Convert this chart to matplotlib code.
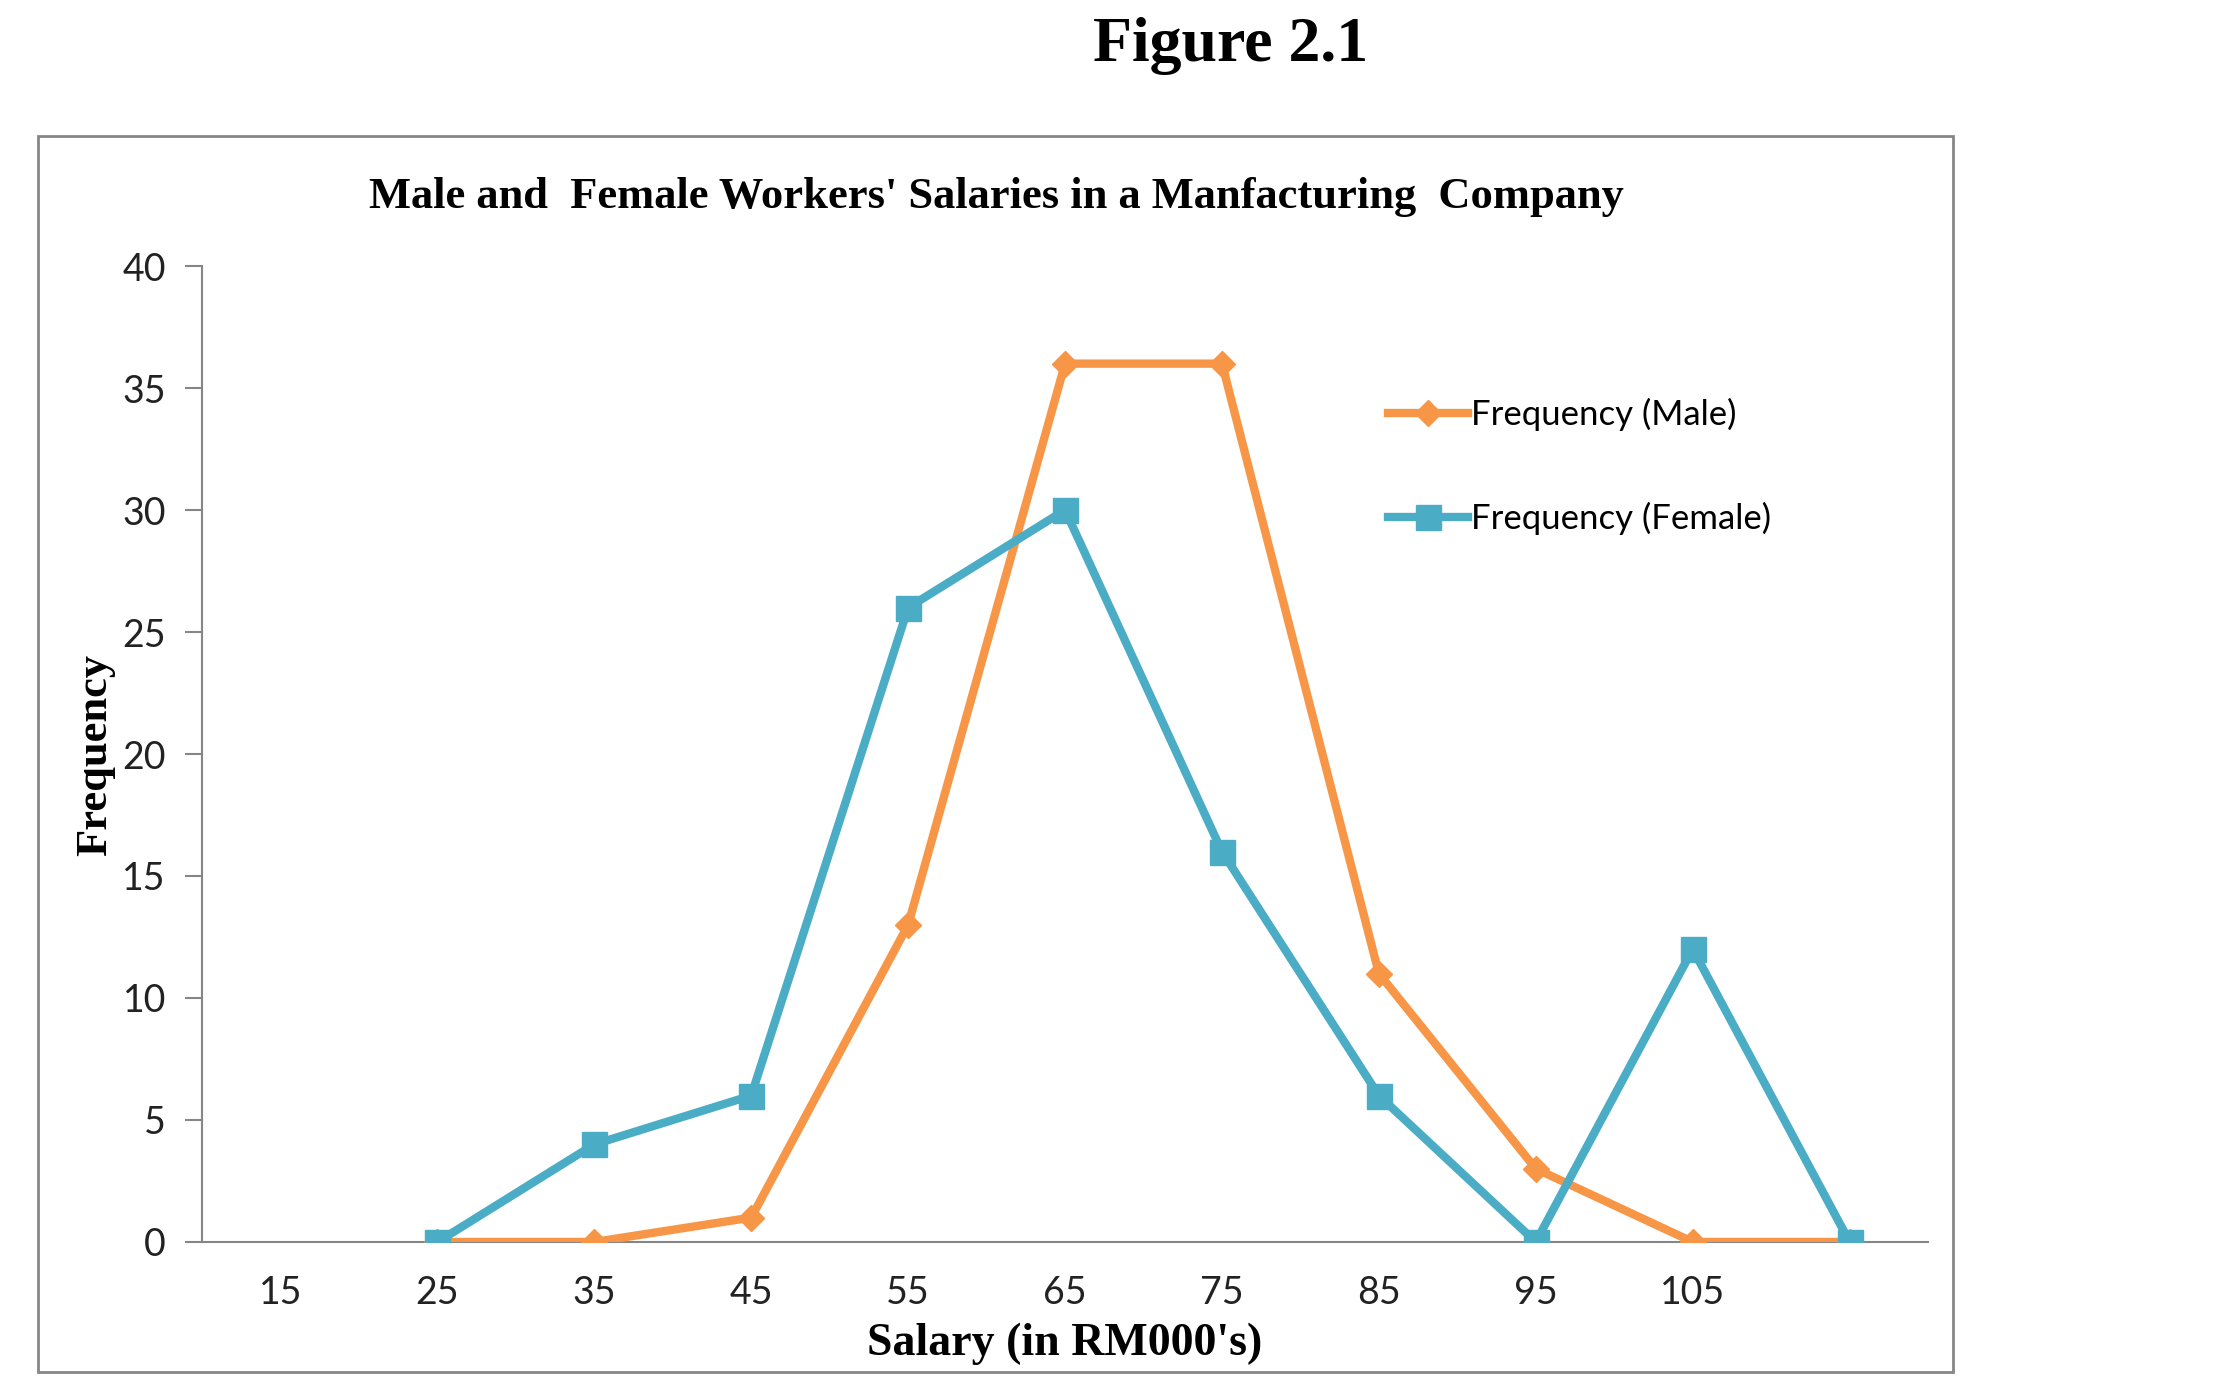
import matplotlib.pyplot as plt
from matplotlib.patches import Rectangle

# ---------- DATA ----------
salary_labels = ["15", "25", "35", "45", "55", "65", "75", "85", "95", "105", ""]
male_x = [1, 2, 3, 4, 5, 6, 7, 8, 9, 10]
male_freq = [0, 0, 1, 13, 36, 36, 11, 3, 0, 0]
female_x = [1, 2, 3, 4, 5, 6, 7, 8, 9, 10]
female_freq = [0, 4, 6, 26, 30, 16, 6, 0, 12, 0]

ORANGE = "#F79646"
BLUE = "#4BACC6"
GRAY = "#868686"
SERIF = "Liberation Serif"
SANS = "Lato"

fig = plt.figure(figsize=(22.18, 13.9), dpi=100)
fig.patch.set_facecolor("white")

# outer chart border
fig.patches.append(Rectangle((0.0171, 0.0129), 0.8634, 0.8893,
                             transform=fig.transFigure, fill=False,
                             edgecolor=GRAY, linewidth=2))

ax = fig.add_axes([0.0911, 0.1065, 0.7782, 0.7021])

ax.plot(male_x, male_freq, color=ORANGE, linewidth=6, marker="D",
        markersize=13, label="Frequency (Male)", zorder=3)
ax.plot(female_x, female_freq, color=BLUE, linewidth=6, marker="s",
        markersize=18, label="Frequency (Female)", zorder=4)

ax.set_xlim(-0.5, 10.5)
ax.set_ylim(0, 40)
ax.set_xticks(range(len(salary_labels)))
ax.set_xticklabels(salary_labels)
ax.set_yticks(range(0, 41, 5))

for s in ["top", "right"]:
    ax.spines[s].set_visible(False)
for s in ["left", "bottom"]:
    ax.spines[s].set_color(GRAY)
    ax.spines[s].set_linewidth(1.5)

ax.tick_params(axis="y", length=12, width=1.5, color=GRAY, pad=14,
               labelsize=27, labelcolor="#222222")
ax.tick_params(axis="x", length=0, pad=24, labelsize=27, labelcolor="#222222")
for lab in ax.get_xticklabels() + ax.get_yticklabels():
    lab.set_family([SANS, "DejaVu Sans"])

leg = ax.legend(loc="upper left", bbox_to_anchor=(0.669, 0.897), frameon=False,
                prop={"family": [SANS, "DejaVu Sans"], "size": 25},
                handlelength=2.3, handletextpad=0.1, labelspacing=2.05)

# titles and axis labels
fig.text(0.555, 0.967, "Figure 2.1", ha="center", va="center",
         family=SERIF, weight="bold", size=46)
fig.text(0.449, 0.858, "Male and  Female Workers' Salaries in a Manfacturing  Company",
         ha="center", va="center", family=SERIF, weight="bold", size=32)
fig.text(0.043, 0.457, "Frequency", ha="center", va="center", rotation=90,
         family=SERIF, weight="bold", size=32)
fig.text(0.480, 0.033, "Salary (in RM000's)", ha="center", va="center",
         family=SERIF, weight="bold", size=33)

plt.savefig("out.png", dpi=100)
